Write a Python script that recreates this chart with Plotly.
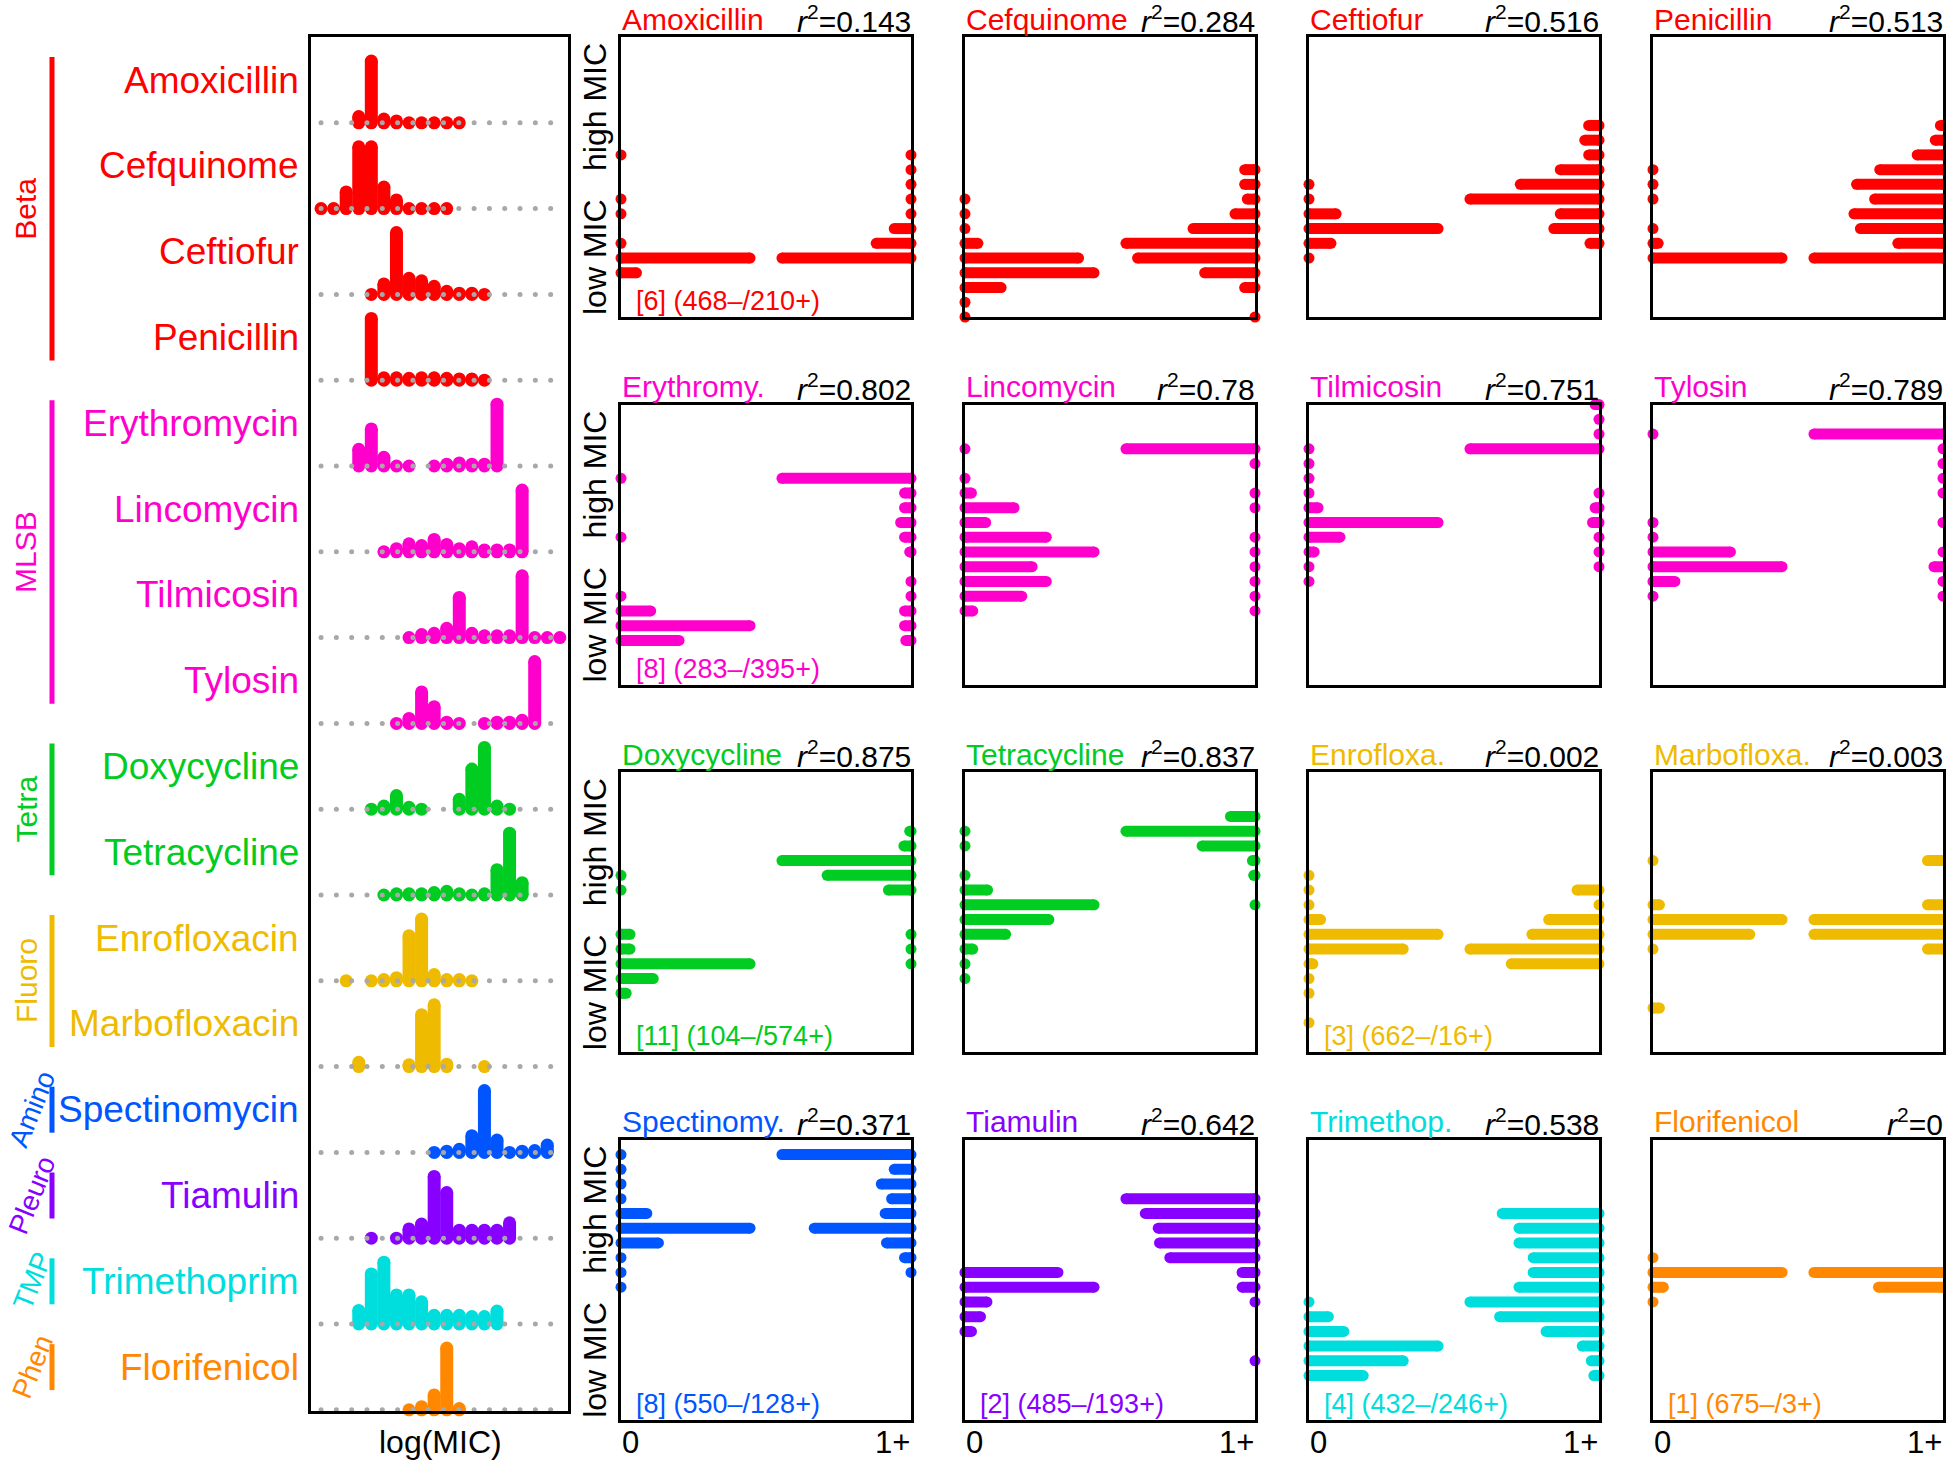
import numpy as np
import plotly.graph_objects as go

W, H = 1946, 1463

drugs = ["Amoxicillin", "Cefquinome", "Ceftiofur", "Penicillin",
         "Erythromycin", "Lincomycin", "Tilmicosin", "Tylosin",
         "Doxycycline", "Tetracycline", "Enrofloxacin", "Marbofloxacin",
         "Spectinomycin", "Tiamulin", "Trimethoprim", "Florifenicol"]
short_names = ["Amoxicillin", "Cefquinome", "Ceftiofur", "Penicillin",
               "Erythromy.", "Lincomycin", "Tilmicosin", "Tylosin",
               "Doxycycline", "Tetracycline", "Enrofloxa.", "Marbofloxa.",
               "Spectinomy.", "Tiamulin", "Trimethop.", "Florifenicol"]
drug_class = ["Beta"] * 4 + ["MLSB"] * 4 + ["Tetra"] * 2 + ["Fluoro"] * 2 + \
             ["Amino", "Pleuro", "TMP", "Phen"]
class_names = ["Beta", "MLSB", "Tetra", "Fluoro", "Amino", "Pleuro", "TMP", "Phen"]
class_colors = {"Beta": "#FF0000", "MLSB": "#FF00CC", "Tetra": "#00CC22",
                "Fluoro": "#EEBB00", "Amino": "#0055FF", "Pleuro": "#8800FF",
                "TMP": "#00DDDD", "Phen": "#FF8800"}
r2 = ["0.143", "0.284", "0.516", "0.513",
      "0.802", "0.78", "0.751", "0.789",
      "0.875", "0.837", "0.002", "0.003",
      "0.371", "0.642", "0.538", "0"]
notes = {"Amoxicillin": "[6] (468–/210+)", "Erythromycin": "[8] (283–/395+)",
         "Doxycycline": "[11] (104–/574+)", "Enrofloxacin": "[3] (662–/16+)",
         "Spectinomycin": "[8] (550–/128+)", "Tiamulin": "[2] (485–/193+)",
         "Trimethoprim": "[4] (432–/246+)", "Florifenicol": "[1] (675–/3+)"}

# relative height of each log(MIC) level (left panel), per drug
mic_dist = {
    "Amoxicillin": {3: .1, 4: 1, 5: .06, 6: .03, 7: 0, 8: 0, 9: 0, 10: 0, 11: 0},
    "Cefquinome": {0: 0, 1: 0, 2: .27, 3: 1, 4: 1, 5: .35, 6: .14, 7: 0, 8: 0, 9: 0, 10: 0},
    "Ceftiofur": {4: 0, 5: .17, 6: 1, 7: .26, 8: .22, 9: .13, 10: .05, 11: .02, 12: .02, 13: 0},
    "Penicillin": {4: 1, 5: .04, 6: .04, 7: .03, 8: .04, 9: .04, 10: .03, 11: .02, 12: .02, 13: 0},
    "Erythromycin": {3: .27, 4: .6, 5: .14, 6: 0, 7: 0, 9: 0, 10: .03, 11: .05, 12: .03, 13: .03, 14: 1},
    "Lincomycin": {5: 0, 6: .05, 7: .13, 8: .1, 9: .2, 10: .12, 11: .05, 12: .08, 13: .03,
                   14: .03, 15: .03, 16: 1},
    "Tilmicosin": {7: 0, 8: .05, 9: .07, 10: .15, 11: .65, 12: .07, 13: .03, 14: .03, 15: .03,
                   16: 1, 17: 0, 18: 0, 19: 0},
    "Tylosin": {6: 0, 7: .08, 8: .51, 9: .27, 10: .02, 11: 0, 13: 0, 14: .02, 15: .02, 16: .05, 17: 1},
    "Doxycycline": {4: 0, 5: .05, 6: .22, 7: .03, 8: 0, 11: .16, 12: .65, 13: 1, 14: .05, 15: 0},
    "Tetracycline": {5: 0, 6: .02, 7: .02, 8: .02, 9: .04, 10: .06, 11: .02, 12: 0, 13: .02,
                     14: .41, 15: 1, 16: .2},
    "Enrofloxacin": {2: 0, 4: 0, 5: .02, 6: .05, 7: .73, 8: 1, 9: .1, 10: .02, 11: .02, 12: 0},
    "Marbofloxacin": {3: .07, 7: .03, 8: .84, 9: 1, 10: .04, 13: 0},
    "Spectinomycin": {9: 0, 10: .02, 11: .05, 12: .27, 13: 1, 14: .2, 15: 0, 16: .02, 17: .03, 18: .12},
    "Tiamulin": {4: 0, 6: 0, 7: .15, 8: .23, 9: 1, 10: .74, 11: .13, 12: .13, 13: .13, 14: .13, 15: .25},
    "Trimethoprim": {3: .22, 4: .81, 5: 1, 6: .47, 7: .47, 8: .36, 9: .14, 10: .14, 11: .14,
                     12: .12, 13: .12, 14: .21},
    "Florifenicol": {7: 0, 8: .05, 9: .24, 10: 1, 11: .02},
}

# relative bar length per MIC level, isolates without gene (0) / with gene (1+)
neg_hist = {
    "Amoxicillin": {3: .12, 4: 1, 5: 0, 7: 0, 8: 0, 11: 0},
    "Cefquinome": {0: 0, 1: 0, 2: .28, 3: 1, 4: .88, 5: .1, 6: 0, 7: 0, 8: 0},
    "Ceftiofur": {4: 0, 5: .17, 6: 1, 7: .21, 8: 0, 9: 0},
    "Penicillin": {4: 1, 5: .04, 6: 0, 8: 0, 9: 0, 10: 0},
    "Erythromycin": {3: .45, 4: 1, 5: .23, 6: 0, 10: 0, 14: 0},
    "Lincomycin": {5: .06, 6: .44, 7: .63, 8: .52, 9: 1, 10: .63, 11: .16, 12: .38, 13: .05, 14: 0, 16: 0},
    "Tilmicosin": {7: 0, 8: 0, 9: .04, 10: .24, 11: 1, 12: .07, 13: 0, 14: 0, 15: 0, 16: 0},
    "Tylosin": {6: 0, 7: .17, 8: 1, 9: .6, 10: 0, 11: 0, 17: 0},
    "Doxycycline": {4: .04, 5: .25, 6: 1, 7: .07, 8: .07, 11: 0, 12: 0},
    "Tetracycline": {5: 0, 6: 0, 7: .06, 8: .315, 9: .65, 10: 1, 11: .175, 12: 0, 14: 0, 15: 0},
    "Enrofloxacin": {2: 0, 4: 0, 5: 0, 6: .03, 7: .73, 8: 1, 9: .09, 10: 0, 11: 0, 12: 0},
    "Marbofloxacin": {3: .05, 7: 0, 8: .75, 9: 1, 10: .05, 13: 0},
    "Spectinomycin": {9: 0, 10: 0, 11: 0, 12: .29, 13: 1, 14: .2, 15: 0, 16: 0, 17: 0, 18: 0},
    "Tiamulin": {6: .05, 7: .12, 8: .17, 9: 1, 10: .72},
    "Trimethoprim": {3: .42, 4: .73, 5: 1, 6: .27, 7: .15, 8: 0},
    "Florifenicol": {8: 0, 9: .08, 10: 1, 11: 0},
}
pos_hist = {
    "Amoxicillin": {4: 1, 5: .27, 6: .13, 7: 0, 8: 0, 9: 0, 10: 0, 11: 0},
    "Cefquinome": {0: 0, 2: .08, 3: .39, 4: .91, 5: 1, 6: .48, 7: .155, 8: .06, 9: .08, 10: .08},
    "Ceftiofur": {5: .07, 6: .35, 7: .3, 8: 1, 9: .61, 10: .3, 11: .08, 12: .11, 13: .08},
    "Penicillin": {4: 1, 5: .35, 6: .64, 7: .69, 8: .53, 9: .67, 10: .49, 11: .2, 12: .06, 13: .02},
    "Erythromycin": {3: .04, 4: .05, 5: .05, 6: 0, 7: 0, 9: .01, 10: .05, 11: .08, 12: .05, 13: .05, 14: 1},
    "Lincomycin": {5: 0, 6: 0, 7: 0, 8: 0, 9: 0, 10: 0, 12: 0, 13: 0, 15: 0, 16: 1},
    "Tilmicosin": {8: 0, 9: 0, 10: 0, 11: .05, 12: .03, 13: 0, 16: 1, 17: 0, 18: 0, 19: .03},
    "Tylosin": {6: 0, 7: 0, 8: .07, 9: 0, 11: 0, 13: 0, 14: 0, 15: 0, 16: 0, 17: 1},
    "Doxycycline": {6: 0, 7: 0, 8: 0, 11: .175, 12: .65, 13: 1, 14: .055, 15: .01},
    "Tetracycline": {10: 0, 12: .01, 13: .02, 14: .41, 15: 1, 16: .19},
    "Enrofloxacin": {6: .68, 7: 1, 8: .52, 9: .39, 10: 0, 11: .17},
    "Marbofloxacin": {7: .12, 8: 1, 9: 1, 10: .12, 13: .12},
    "Spectinomycin": {10: 0, 11: .05, 12: .19, 13: .75, 14: .2, 15: .15, 16: .23, 17: .13, 18: 1},
    "Tiamulin": {4: 0, 8: 0, 9: .1, 10: .1, 11: .66, 12: .74, 13: .75, 14: .85, 15: 1},
    "Trimethoprim": {3: .04, 4: .06, 5: .13, 6: .41, 7: .77, 8: 1, 9: .62, 10: .51, 11: .51,
                     12: .62, 13: .62, 14: .75},
    "Florifenicol": {9: .5, 10: 1},
}

FONT = "Liberation Sans, Arial, Helvetica, sans-serif"
n_levels = 19          # small panels: y from level 0 to level 19
bar_max = 0.445        # longest bar, as fraction of panel width
stem_max = 0.72        # tallest stem in left panel, in row units


def fx(p):
    return p / W


def fy(p):
    return 1 - p / H


def label(x, y, text, size, color="black", xa="center", ya="middle", angle=0):
    return dict(x=fx(x), y=fy(y), xref="paper", yref="paper", text=text, showarrow=False,
                xanchor=xa, yanchor=ya, textangle=angle, borderpad=0,
                font=dict(family=FONT, size=size, color=color))


fig = go.Figure()
layout_axes = {}
annotations = []
shapes = []

axis_common = dict(showgrid=False, zeroline=False, showticklabels=False, ticks="",
                   showline=True, mirror=True, linecolor="black", linewidth=2.5,
                   fixedrange=True)

# ---- left panel: MIC distributions ----
lp_left, lp_right, lp_top, lp_bot = 311, 568, 37, 1411
row_px = 85.8
layout_axes["xaxis"] = dict(axis_common, domain=[fx(lp_left), fx(lp_right)], range=[-0.8, 19.65],
                            anchor="y")
layout_axes["yaxis"] = dict(axis_common, domain=[fy(lp_bot), fy(lp_top)],
                            range=[-(lp_bot - lp_top) / row_px + 1.0, 1.0], anchor="x")

for i, d in enumerate(drugs):
    col = class_colors[drug_class[i]]
    dist = mic_dist[d]
    lx, ly, mx, my = [], [], [], []
    for k, v in dist.items():
        mx.append(k)
        my.append(-i)
        if v > 0:
            lx += [k, k, None]
            ly += [-i, -i + v * stem_max, None]
            mx.append(k)
            my.append(-i + v * stem_max)
    fig.add_trace(go.Scatter(x=lx, y=ly, mode="lines", line=dict(color=col, width=13),
                             xaxis="x", yaxis="y", hoverinfo="skip"))
    fig.add_trace(go.Scatter(x=mx, y=my, mode="markers", marker=dict(color=col, size=13),
                             xaxis="x", yaxis="y", cliponaxis=False, hoverinfo="skip"))

grid_x = np.linspace(0, 18.27, 16)
gx, gy = [], []
for i in range(len(drugs)):
    gx += list(grid_x)
    gy += [-i] * len(grid_x)
fig.add_trace(go.Scatter(x=gx, y=gy, mode="markers", marker=dict(color="#a8a8a8", size=5),
                         xaxis="x", yaxis="y", cliponaxis=False, hoverinfo="skip"))

# drug labels and class brackets
for i, d in enumerate(drugs):
    yc = 123 + row_px * i - row_px / 2
    annotations.append(label(300, yc, d, 37, class_colors[drug_class[i]], xa="right"))

for cname in class_names:
    rows = [i for i, c in enumerate(drug_class) if c == cname]
    y0 = 123 + row_px * rows[0] - row_px / 2 - 23
    y1 = 123 + row_px * rows[-1] - row_px / 2 + 23
    col = class_colors[cname]
    shapes.append(dict(type="line", xref="paper", yref="paper", x0=fx(52), x1=fx(52),
                       y0=fy(y0), y1=fy(y1), line=dict(color=col, width=5)))
    if len(rows) == 1:
        annotations.append(label(32, (y0 + y1) / 2, cname, 28, col, angle=-68))
    else:
        annotations.append(label(26, (y0 + y1) / 2, cname, 30, col, angle=-90))

annotations.append(label(440, 1461, "log(MIC)", 32, ya="bottom"))

# ---- small panels ----
col_left0, col_step, pw = 621, 344, 290
row_top0, row_step, ph = 37, 367.6, 280

for j, d in enumerate(drugs):
    r, c = divmod(j, 4)
    n = j + 2
    left = col_left0 + col_step * c
    right = left + pw
    top = row_top0 + row_step * r
    bot = top + ph
    col = class_colors[drug_class[j]]
    layout_axes[f"xaxis{n}"] = dict(axis_common, domain=[fx(left), fx(right)], range=[0, 1],
                                    anchor=f"y{n}")
    layout_axes[f"yaxis{n}"] = dict(axis_common, domain=[fy(bot), fy(top)], range=[0, n_levels],
                                    anchor=f"x{n}")

    for hist, edge, sign in ((neg_hist[d], 0.0, 1), (pos_hist[d], 1.0, -1)):
        lx, ly, mx, my = [], [], [], []
        for lev, v in hist.items():
            mx.append(edge)
            my.append(lev)
            if v > 0:
                end = edge + sign * v * bar_max
                lx += [edge, end, None]
                ly += [lev, lev, None]
                mx.append(end)
                my.append(lev)
        fig.add_trace(go.Scatter(x=lx, y=ly, mode="lines", line=dict(color=col, width=11),
                                 xaxis=f"x{n}", yaxis=f"y{n}", hoverinfo="skip"))
        fig.add_trace(go.Scatter(x=mx, y=my, mode="markers", marker=dict(color=col, size=11),
                                 xaxis=f"x{n}", yaxis=f"y{n}", cliponaxis=False, hoverinfo="skip"))

    annotations.append(label(left, top - 18, short_names[j], 30, col, xa="left"))
    annotations.append(label(right + 1, top - 18, f"<i>r</i><sup>2</sup>={r2[j]}", 30, xa="right"))
    if d in notes:
        annotations.append(label(left + 14, bot - 16, notes[d], 27, col, xa="left"))
    if c == 0:
        annotations.append(label(595, top + 220, "low MIC", 32, angle=-90))
        annotations.append(label(595, top + 70, "high MIC", 32, angle=-90))
    if r == 3:
        annotations.append(label(left, 1461, "0", 31, xa="left", ya="bottom"))
        annotations.append(label(right, 1461, "1+", 31, xa="right", ya="bottom"))

fig.update_layout(width=W, height=H, margin=dict(l=0, r=0, t=0, b=0),
                  paper_bgcolor="white", plot_bgcolor="white", showlegend=False,
                  annotations=annotations, shapes=shapes, **layout_axes)

fig.write_html("out.html", config={"displayModeBar": False},
               post_script="document.body.style.margin = '0px';")
